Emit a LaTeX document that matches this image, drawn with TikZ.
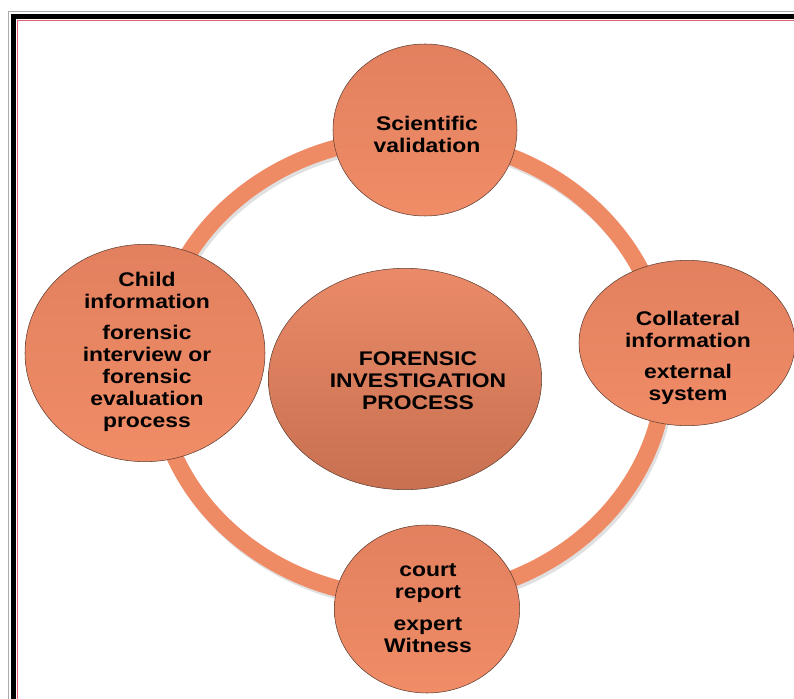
\documentclass[tikz,border=0pt]{standalone}
\usepackage{fontspec}
\setmainfont{Liberation Sans}[FakeStretch=1.16]
\usetikzlibrary{shapes.geometric}

\definecolor{ringcol}{RGB}{238,138,100}
\definecolor{bubbletop}{RGB}{226,128,95}
\definecolor{bubblebot}{RGB}{240,140,102}
\definecolor{hubtop}{RGB}{234,138,104}
\definecolor{hubbot}{RGB}{200,112,80}
\definecolor{rimcol}{RGB}{95,62,50}
\definecolor{framered}{RGB}{224,96,110}

\tikzset{
  bubble/.style={ellipse, draw=rimcol, line width=0.4pt, inner sep=0pt,
    top color=bubbletop, bottom color=bubblebot},
  hubbubble/.style={bubble, top color=hubtop, bottom color=hubbot},
  bubbletext/.style={align=center, inner sep=0pt,
    font=\fontsize{14.8}{16.5}\selectfont\bfseries},
  ringband/.style={draw=ringcol, line width=12.5pt},
}

\begin{document}
\begin{tikzpicture}[x=0.75pt,y=0.75pt,yscale=-1,xscale=1]
\useasboundingbox (0,0) rectangle (794,699);
\clip (0,0) rectangle (794,699);
%Shape: Frame
\draw [draw={rgb, 255:red, 170; green, 170; blue, 170}, line width=0.75] (8,12) rectangle (840,760);
\draw [line width=3.75] (13,16.5) rectangle (840,760);
\draw [draw=framered, line width=0.75] (17.5,20.5) rectangle (840,760);

%Shape: Ring
\coordinate (hub) at (410,368);
\draw [ringband, draw=black, opacity=0.12] ([shift={(2,3)}]hub) ellipse [x radius=255, y radius=230];
\draw [ringband] (hub) ellipse [x radius=255, y radius=230];

%Shape: Ellipse
\node [bubble, minimum width=138pt, minimum height=129pt] (scival) at (425,130) {};
\node [bubble, minimum width=180pt, minimum height=163pt] (child) at (145,353) {};
\node [bubble, minimum width=162pt, minimum height=124pt] (collat) at (687,343) {};
\node [bubble, minimum width=139pt, minimum height=126pt] (court) at (427,609) {};
\node [hubbubble, minimum width=205pt, minimum height=166pt] (forensic) at (405,379) {};

% Text Node
\node [bubbletext] (scivaltext) at (427,134) {Scientific\\validation};
% Text Node
\node [bubbletext] (childtext) at (147,352) {Child\\information\\[7pt]forensic\\interview or\\forensic\\evaluation\\process};
% Text Node
\node [bubbletext] (collattext) at (688,358) {Collateral\\information\\[7pt]external\\system};
% Text Node
\node [bubbletext] (courttext) at (428,608) {court\\report\\[7pt]expert\\Witness};
% Text Node
\node [bubbletext] (forensictext) at (418,381) {FORENSIC\\INVESTIGATION\\PROCESS};
\end{tikzpicture}
\end{document}
